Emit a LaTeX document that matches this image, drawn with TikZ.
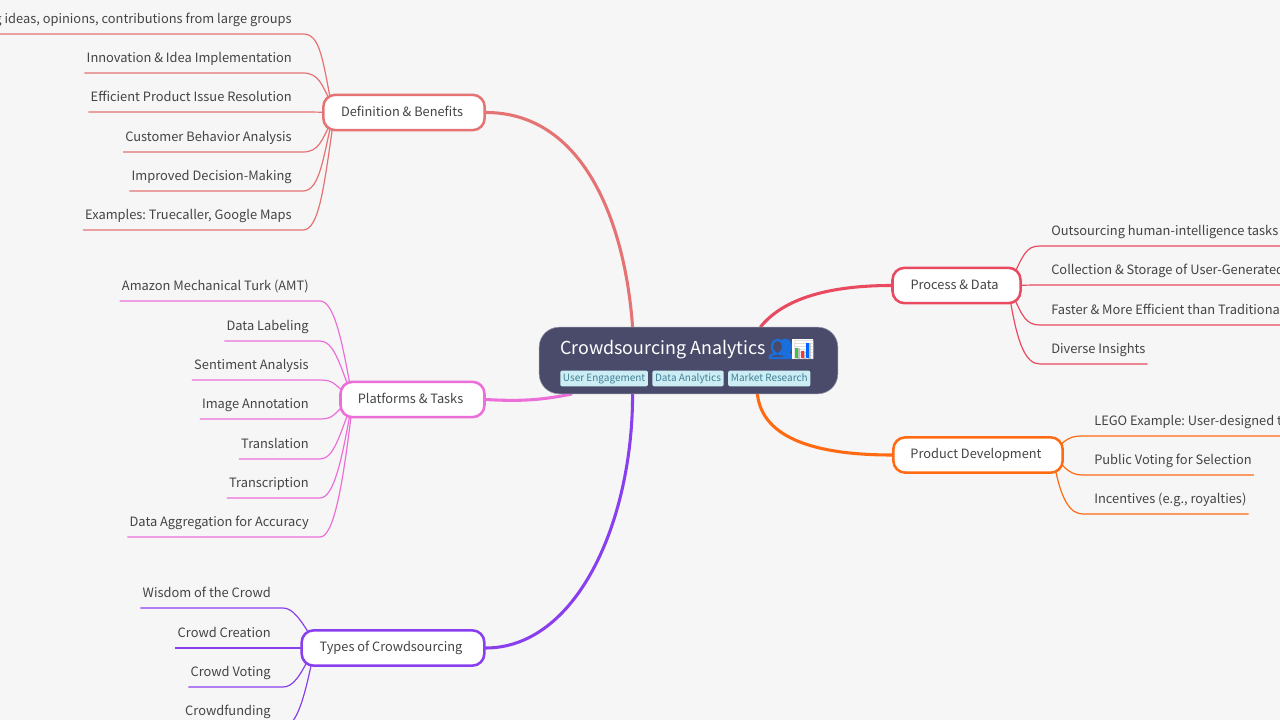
\documentclass[tikz,border=0pt]{standalone}
\usepackage{fontspec}
\setmainfont{Noto Sans CJK SC}
\newfontfamily\emojifont{Noto Emoji}
\newfontfamily\emojibold[FakeBold=7]{Noto Emoji}
\frenchspacing
\usetikzlibrary{positioning, backgrounds}
\definecolor{pagebg}{HTML}{F6F6F6}
\definecolor{rootbg}{HTML}{4A4B6A}
\definecolor{tagbg}{HTML}{CDEDF4}
\definecolor{tagtxt}{HTML}{3F7F95}
\definecolor{inktxt}{HTML}{444444}
\definecolor{cdef}{HTML}{E57373}
\definecolor{cplat}{HTML}{EC6FD9}
\definecolor{ctype}{HTML}{8A3FEF}
\definecolor{cproc}{HTML}{E94A60}
\definecolor{cprod}{HTML}{FF6A13}
\definecolor{cpeople}{HTML}{1A6FDC}
\tikzset{
	branch/.style={draw=#1, line width=1.9pt, fill=white, rounded corners=9pt, text=inktxt, font=\fontsize{9.6}{12}\selectfont, text height=8pt, text depth=2.5pt, inner sep=0pt, minimum height=26.5pt, execute at end node=\hspace*{3pt}},
	leaf/.style={text=inktxt, font=\fontsize{9.65}{12}\selectfont, text height=8pt, text depth=3pt, inner xsep=1.5pt, inner ysep=5pt},
	trunk/.style={line width=2.3pt, line cap=round},
	twig/.style={line width=.9pt},
	tag/.style={fill=tagbg, rounded corners=1.5pt, text=tagtxt, font=\fontsize{7.5}{10}\selectfont, text height=6.5pt, text depth=2pt, inner xsep=2pt, inner ysep=1.7pt}
}
\begin{document}
\begin{tikzpicture}[x=.75pt, y=-.75pt]
	\useasboundingbox (0,0) rectangle (1280,720);
	\clip (0,0) rectangle (1280,720);

	% root
	\node[fill=rootbg, draw=rootbg!60!white, line width=.4pt, rounded corners=15pt, minimum width=224pt, minimum height=50pt, inner sep=0pt] (root) at (688.5,360.5) {};
	\node[anchor=base west, text=white, inner sep=0pt, font=\fontsize{13.4}{16}\selectfont] (title) at (560,354) {Crowdsourcing Analytics};
	\node[anchor=base west, inner sep=0pt, text=cpeople, font=\emojibold\fontsize{15.5}{16}\selectfont] (people) at (768,356) {👥};
	\fill[white] (792,339) rectangle (813,359);
	\node[anchor=base west, inner sep=0pt, text=black!25, font=\emojifont\fontsize{14}{16}\selectfont] (chart) at (792,356) {📊};
	\fill[green!50!gray] (795,348) rectangle (798,358);
	\fill[red!80] (801,351) rectangle (804,358);
	\fill[blue!60!cyan] (806,343) rectangle (809,358);
	\node[tag, anchor=west] (tagA) at (560,378.5) {User Engagement};
	\node[tag, right=3pt of tagA] (tagB) {Data Analytics};
	\node[tag, right=3pt of tagB] (tagC) {Market Research};

	% branches
	\node[branch=cdef, minimum width=121pt] (def) at (404,112.5) {Definition \& Benefits};
	\node[branch=cplat, minimum width=108pt] (plat) at (412.5,399.5) {Platforms \& Tasks};
	\node[branch=ctype, minimum width=137pt] (kinds) at (393,648) {Types of Crowdsourcing};
	\node[branch=cproc, minimum width=96pt] (proc) at (956.5,285.5) {Process \& Data};
	\node[branch=cprod, minimum width=127pt] (prod) at (978,455) {Product Development};

	% leaves on the left
	\foreach \n/\y/\txt in {1/34/{Gathering ideas, opinions, contributions from large groups}, 2/73/{Innovation \& Idea Implementation}, 3/112/{Efficient Product Issue Resolution}, 4/152/{Customer Behavior Analysis}, 5/191/{Improved Decision-Making}, 6/230/{Examples: Truecaller, Google Maps}}
		\node[leaf, anchor=south east] (def\n) at (294,\y) {\txt};
	\foreach \n/\y/\txt in {1/301/{Amazon Mechanical Turk (AMT)}, 2/341/{Data Labeling}, 3/380/{Sentiment Analysis}, 4/419/{Image Annotation}, 5/459/{Translation}, 6/498/{Transcription}, 7/537/{Data Aggregation for Accuracy}}
		\node[leaf, anchor=south east] (plat\n) at (311,\y) {\txt};
	\foreach \n/\y/\txt in {1/608/{Wisdom of the Crowd}, 2/648/{Crowd Creation}, 3/687/{Crowd Voting}, 4/726/{Crowdfunding}}
		\node[leaf, anchor=south east] (kinds\n) at (273,\y) {\txt};

	% leaves on the right
	\foreach \n/\y/\txt in {1/246/{Outsourcing human-intelligence tasks}, 2/285/{Collection \& Storage of User-Generated Data}, 3/325/{Faster \& More Efficient than Traditional Methods}, 4/364/{Diverse Insights}}
		\node[leaf, anchor=south west] (proc\n) at (1049,\y) {\txt};
	\foreach \n/\y/\txt in {1/436/{LEGO Example: User-designed toy sets}, 2/475/{Public Voting for Selection}, 3/514/{Incentives (e.g., royalties)}}
		\node[leaf, anchor=south west] (prod\n) at (1092,\y) {\txt};

	\begin{scope}[on background layer]
		\fill[pagebg] (0,0) rectangle (1280,720);
		% thick lines to the root
		\draw[trunk, cdef] (def.east) .. controls +(95,0) and +(-8,-110) .. (root.149);
		\draw[trunk, cplat] (plat.east) .. controls +(35,2) and +(-30,6) .. (root.196);
		\draw[trunk, ctype] (kinds.east) .. controls +(90,0) and +(0,130) .. (root.211);
		\draw[trunk, cproc] (proc.west) .. controls +(-70,0) and +(20,-25) .. (root.25);
		\draw[trunk, cprod] (prod.west) .. controls +(-75,0) and +(5,45) .. (root.-26);
		% thin lines to the leaves
		\foreach \n/\ex/\ey/\cx/\cy in {1/-73/-10/-9/-48, 2/-74/-12/-8/-15, 3/-70/0/-5/0, 4/-74/12/-8/15, 5/-73/12/-8/35, 6/-71/12/-9/62}
			\draw[twig, cdef] (def\n.south west) -- (def\n.south east) -- ++(9,0) .. controls +(16,0) and +(\cx,\cy) .. ([shift={(\ex,\ey)}]def.center);
		\foreach \n/\ex/\ey/\cx/\cy in {1/-61.5/-9/-9/-50, 2/-62.5/-9/-10/-25, 3/-66.5/-6/-12/-9, 4/-66.5/4/-12/10, 5/-62.5/9/-10/25, 6/-61.5/9/-9/50, 7/-60.5/9/-9/75}
			\draw[twig, cplat] (plat\n.south west) -- (plat\n.south east) -- ++(9,0) .. controls +(14,0) and +(\cx,\cy) .. ([shift={(\ex,\ey)}]plat.center);
		\foreach \n/\ex/\ey/\cx/\cy in {1/-80/-8/-12/-20, 2/-80/0/-5/0, 3/-83/8/-10/20, 4/-80/8/-12/60}
			\draw[twig, ctype] (kinds\n.south west) -- (kinds\n.south east) -- ++(10,0) .. controls +(10,0) and +(\cx,\cy) .. ([shift={(\ex,\ey)}]kinds.center);
		\foreach \n/\ex/\ey/\cx/\cy in {1/55/-6/12/-25, 2/55/0/5/0, 3/56/9/10/22, 4/53/10/8/50}
			\draw[twig, cproc] (proc\n.south east) -- (proc\n.south west) -- ++(-9,0) .. controls +(-14,0) and +(\cx,\cy) .. ([shift={(\ex,\ey)}]proc.center);
		\foreach \n/\ex/\ey/\cx/\cy in {1/77/-5/12/-12, 2/77/3/12/12, 3/76/7/7/40}
			\draw[twig, cprod] (prod\n.south east) -- (prod\n.south west) -- ++(-9,0) .. controls +(-12,0) and +(\cx,\cy) .. ([shift={(\ex,\ey)}]prod.center);
	\end{scope}
\end{tikzpicture}
\end{document}
